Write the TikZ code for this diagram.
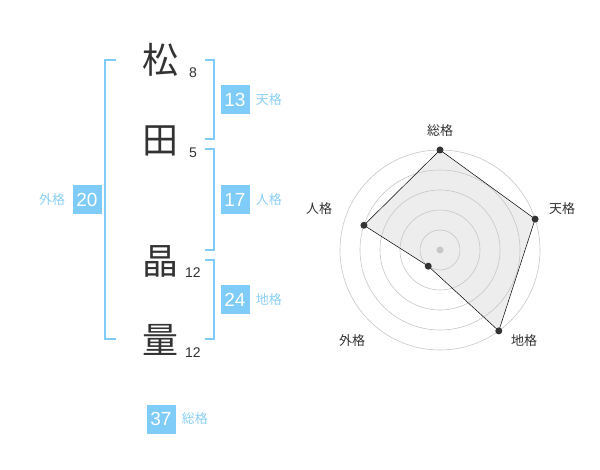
\documentclass[tikz,border=0pt]{standalone}
\usepackage{fontspec}
\setmainfont{Liberation Sans}
\newfontfamily\jp{Noto Sans CJK JP}
\usetikzlibrary{positioning}
\definecolor{sky}{HTML}{7FCCF8}
\definecolor{skytext}{HTML}{8ACFF5}
\definecolor{ink}{HTML}{333333}

\begin{document}
\begin{tikzpicture}[x=1pt, y=-1pt,
    kanji/.style={font=\jp\fontsize{36}{36}\selectfont, text=ink, inner sep=0pt},
    strokes/.style={font=\fontsize{14}{14}\selectfont, text=ink, inner sep=0pt},
    score/.style={fill=sky, text=white, minimum size=29pt, inner sep=0pt, font=\fontsize{19}{19}\selectfont},
    kaku/.style={font=\jp\fontsize{13}{13}\selectfont, text=skytext, inner sep=0pt},
    bracket/.style={draw=sky, line width=2pt},
    ring/.style={draw=black!22, line width=0.6pt},
    axis/.style={font=\jp\fontsize{13}{13}\selectfont, text=ink, inner sep=0pt},
    dot/.style={circle, fill=ink, inner sep=0pt, minimum size=7pt}]
  \useasboundingbox (0,0) rectangle (600,470);

  % Define nodes
  \node[kanji] (k1) at (160,60)  {松};
  \node[kanji] (k2) at (160,141) {田};
  \node[kanji] (k3) at (160,261) {晶};
  \node[kanji] (k4) at (160,340) {量};
  \node[strokes] (n1) at (193,73)  {8};
  \node[strokes] (n2) at (193,153) {5};
  \node[strokes] (n3) at (193,273) {12};
  \node[strokes] (n4) at (193,353) {12};

  \node[score] (ten)  at (235,100) {13};
  \node[score] (jin)  at (235,200) {17};
  \node[score] (chi)  at (235,300) {24};
  \node[score] (gai)  at (87,200)  {20};
  \node[score] (sou)  at (161,419) {37};
  \node[kaku, right=6pt of ten] {天格};
  \node[kaku, right=6pt of jin] {人格};
  \node[kaku, right=6pt of chi] {地格};
  \node[kaku, left=7pt of gai]  {外格};
  \node[kaku, right=6pt of sou] {総格};

  % Brackets
  \draw[bracket] (116,60) -| (105,339) -- (116,339);
  \draw[bracket] (205,60) -| (214,139) -- (205,139);
  \draw[bracket] (205,149) -| (214,250) -- (205,250);
  \draw[bracket] (205,260) -| (214,339) -- (205,339);

  % Radar chart
  \begin{scope}[shift={(440,250)}, yscale=-1]
    \coordinate (p1) at (90:100);
    \coordinate (p2) at (18:100);
    \coordinate (p3) at (-54:100);
    \coordinate (p4) at (234:20);
    \coordinate (p5) at (162:80);
    \fill[black!7] (p1) -- (p2) -- (p3) -- (p4) -- (p5) -- cycle;
    \foreach \r in {20,40,...,100}
      \draw[ring] (0,0) circle (\r);
    \fill[black!22] (0,0) circle (3.5);
  \end{scope}
  \draw[black, line width=0.5pt] (p1) -- (p2) -- (p3) -- (p4) -- (p5) -- cycle;
  \foreach \p in {p1,p2,p3,p4,p5}
    \node[dot] at (\p) {};

  \node[axis] (a1) at (440,131) {総格};
  \node[axis] (a2) at (562,209) {天格};
  \node[axis] (a3) at (319,209) {人格};
  \node[axis] (a4) at (352,341) {外格};
  \node[axis] (a5) at (524,341) {地格};
\end{tikzpicture}
\end{document}
